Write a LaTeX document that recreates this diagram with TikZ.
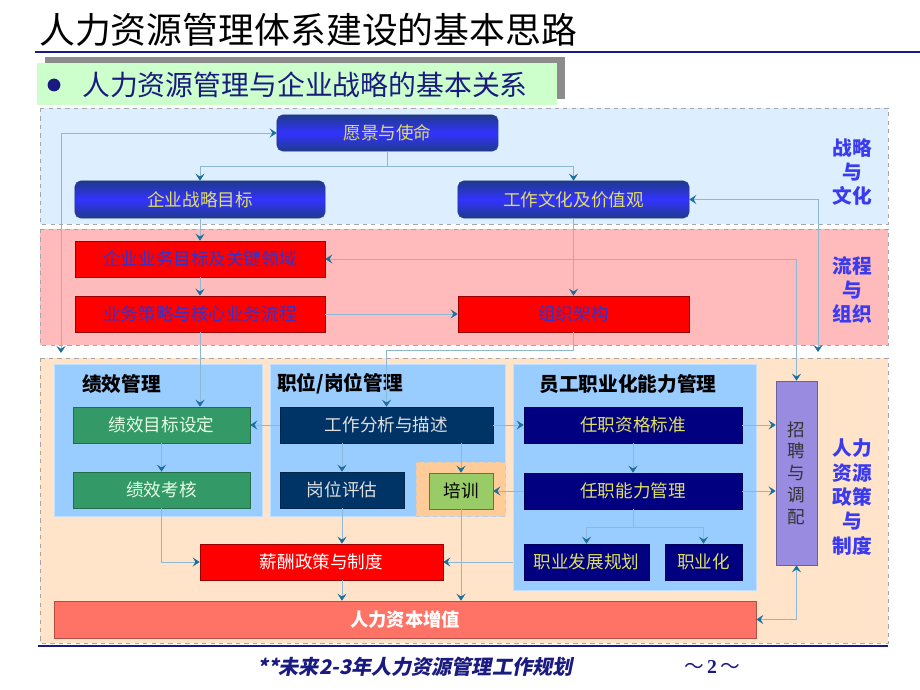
\documentclass[tikz,border=0pt]{standalone}
\usepackage{fontspec}
\setmainfont{Noto Sans CJK SC}
\newfontfamily\footfont[FakeSlant=0.2]{Noto Sans CJK SC}
\newfontfamily\pagefont{Liberation Serif}
\usetikzlibrary{arrows.meta, positioning}
\definecolor{zoneblue}{HTML}{DDEEFF}
\definecolor{zonepink}{HTML}{FFBBBB}
\definecolor{zonepeach}{HTML}{FFE4C9}
\definecolor{panelblue}{HTML}{99CCFF}
\definecolor{trainzone}{HTML}{FFCC99}
\definecolor{trainleaf}{HTML}{99CC66}
\definecolor{vividblue}{HTML}{3333FF}
\definecolor{deepblue}{HTML}{1F3A8C}
\definecolor{hotred}{HTML}{FF0000}
\definecolor{leaf}{HTML}{339966}
\definecolor{darknavy}{HTML}{003366}
\definecolor{deepnavy}{HTML}{000080}
\definecolor{lilac}{HTML}{998BE0}
\definecolor{salmon}{HTML}{FF7366}
\definecolor{linkline}{HTML}{8CB8D4}
\definecolor{tipblue}{HTML}{1C6E9C}
\definecolor{tagblue}{HTML}{3A3AF0}
\definecolor{paleyellow}{HTML}{E0E060}
\definecolor{redtext}{HTML}{3333CC}
\definecolor{rulenavy}{HTML}{1A1A80}
\definecolor{subgreen}{HTML}{CCFFCC}

\begin{document}
\begin{tikzpicture}[x=0.025cm, y=-0.025cm,
	>={Stealth[length=5pt, width=6.5pt, inset=2pt, color=tipblue]},
	zone/.style={draw=gray!70, dashed, line width=0.6pt},
	box/.style={inner sep=0pt, minimum height=0.9cm, font=\fontsize{12.5}{14}\selectfont},
	skybox/.style={box, rounded corners=4pt, draw=deepblue, top color=deepblue, bottom color=deepblue, middle color=vividblue, text=paleyellow},
	redbox/.style={box, fill=hotred, draw=red!60!black, text=redtext},
	leafbox/.style={box, fill=leaf, draw=leaf!70!black, text=white!90!green},
	navybox/.style={box, fill=darknavy, draw=darknavy!70!black, text=white!88!black},
	deepbox/.style={box, fill=deepnavy, draw=deepnavy!70!black, text=paleyellow},
	trainbox/.style={box, fill=trainleaf, draw=trainleaf!60!black, text=black},
	lilacbox/.style={box, fill=lilac, draw=lilac!70!black, text=black!80, font=\fontsize{12.5}{15.5}\selectfont},
	salmonbox/.style={box, fill=salmon, draw=salmon!70!black, text=white, font=\fontsize{13}{15}\bfseries},
	panel/.style={fill=panelblue, draw=panelblue!60!white, inner sep=0pt},
	paneltitle/.style={inner sep=0pt, text=black, font=\fontsize{14}{16}\bfseries},
	sidetag/.style={inner sep=0pt, align=center, text=tagblue, font=\fontsize{14}{17.4}\bfseries},
	wire/.style={draw=linkline, line width=0.6pt},
	link/.style={wire, ->},
	twoway/.style={wire, <->}]
	\useasboundingbox (0,0) rectangle (920,690);
	% heading
	\node[anchor=west, inner sep=0pt, font=\fontsize{25.5}{28}\selectfont] (title) at (39,30) {人力资源管理体系建设的基本思路};
	\draw[rulenavy, line width=1.5pt] (35,52) -- (920,52);
	\fill[gray!90] (45,57) rectangle (565,99);
	\fill[subgreen] (37,63) rectangle (557,105);
	\fill[rulenavy] (54,85) circle[radius=1.6mm];
	\node[anchor=west, inner sep=0pt, text=rulenavy, font=\fontsize{19.8}{22}\selectfont] (subtitle) at (82,85) {人力资源管理与企业战略的基本关系};

	% zones
	\filldraw[zone, fill=zoneblue] (40,108) rectangle (888,224);
	\filldraw[zone, fill=zonepink] (40,229) rectangle (888,345);
	\filldraw[zone, fill=zonepeach] (40,358) rectangle (888,643);
	\node[sidetag] (tagstrategy) at (852,172) {战略\\与\\文化};
	\node[sidetag] (tagprocess) at (852,290) {流程\\与\\组织};
	\node[sidetag] (tagpolicy) at (852,497) {人力\\资源\\政策\\与\\制度};

	% strategy and process
	\node[skybox, minimum width=5.525cm] (vision) at (387.5,133) {愿景与使命};
	\node[skybox, minimum width=6.25cm, minimum height=0.925cm] (goal) at (200,199.5) {企业战略目标};
	\node[skybox, minimum width=5.775cm, minimum height=0.925cm] (culture) at (573.5,199.5) {工作文化及价值观};
	\node[redbox, minimum width=6.25cm] (bizgoal) at (200,259) {企业业务目标及关键领域};
	\node[redbox, minimum width=6.25cm] (process) at (200,314) {业务策略与核心业务流程};
	\node[redbox, minimum width=5.775cm] (org) at (573.5,314) {组织架构};

	% panels
	\node[panel, minimum width=5.2cm, minimum height=3.8cm] (perfpanel) at (158,440) {};
	\node[panel, minimum width=5.875cm, minimum height=3.8cm] (jobpanel) at (387.5,440) {};
	\node[panel, minimum width=6.075cm, minimum height=5.65cm] (profpanel) at (634.5,477) {};
	\node[fill=trainzone, draw=gray!40, dashed, inner sep=0pt, minimum width=2.225cm, minimum height=1.35cm] (trainpanel) at (460.5,489) {};
	\node[paneltitle, anchor=west] (perftitle) at (82,384) {绩效管理};
	\node[paneltitle, anchor=west] (jobtitle) at (277,384) {职位/岗位管理};
	\node[paneltitle] (proftitle) at (628,384) {员工职业化能力管理};

	% policy
	\node[leafbox, minimum width=4.425cm] (perfgoal) at (161.5,425) {绩效目标设定};
	\node[leafbox, minimum width=4.425cm] (appraisal) at (161.5,490) {绩效考核};
	\node[navybox, minimum width=5.325cm] (jobana) at (386.5,425) {工作分析与描述};
	\node[navybox, minimum width=3.1cm] (jobeval) at (342,490) {岗位评估};
	\node[trainbox, minimum width=1.6cm] (train) at (461,491) {培训};
	\node[deepbox, minimum width=5.45cm] (qual) at (633,425) {任职资格标准};
	\node[deepbox, minimum width=5.45cm] (ability) at (633,491) {任职能力管理};
	\node[deepbox, minimum width=3.125cm] (career) at (586.5,562) {职业发展规划};
	\node[deepbox, minimum width=1.925cm] (profz) at (703.5,562) {职业化};
	\node[lilacbox, align=center, minimum width=1.025cm, minimum height=4.6cm] (recruit) at (796.5,473) {招\\聘\\与\\调\\配};
	\node[redbox, text=white, minimum width=6.075cm] (pay) at (321.5,562) {薪酬政策与制度};
	\node[salmonbox, minimum width=17.55cm, minimum height=0.925cm] (value) at (405,619.5) {人力资本增值};

	% connectors
	\coordinate (leftend) at (61,353);
	\coordinate (rightend) at (818,352);
	\draw[wire] (vision.south) -- ++(0,15) coordinate (vsplit);
	\draw[link] (vsplit) -| (goal.north);
	\draw[link] (vsplit) -| (culture.north);
	\draw[twoway] (leftend) |- (vision.west);
	\draw[twoway] (rightend) |- (culture.east);
	\draw[twoway] (recruit.north) |- (bizgoal.east);
	\draw[link] (goal.south) -- (bizgoal.north);
	\draw[link] (bizgoal.south) -- (process.north);
	\draw[link] (process.east) -- (org.west);
	\draw[link] (culture.south) -- (org.north);
	\draw[link] (org.south) -- ++(0,18) -| (jobana.north);
	\draw[link] (process.south) -- (process.south |- perfgoal.north);
	\draw[link] (jobana.west) -- (perfgoal.east);
	\draw[link] (jobana.east) -- (qual.west);
	\draw[link] (perfgoal.south) -- (appraisal.north);
	\draw[link] (jobeval.north |- jobana.south) -- (jobeval.north);
	\draw[link] (train.north |- jobana.south) -- (train.north);
	\draw[link] (ability.west) -- (train.east);
	\draw[link] (qual.south) -- (ability.north);
	\draw[link] (qual.east) -- (recruit.west |- qual.east);
	\draw[link] (ability.east) -- (recruit.west |- ability.east);
	\draw[wire] (ability.south) -- ++(0,18) coordinate (asplit);
	\draw[link] (asplit) -| (career.north);
	\draw[link] (asplit) -| (profz.north);
	\draw[link] (appraisal.south) |- (pay.west);
	\draw[link] (jobeval.south) -- (jobeval.south |- pay.north);
	\draw[link] (profpanel.west |- pay.east) -- (pay.east);
	\draw[link] (pay.south -| jobeval.south) -- (jobeval.south |- value.north);
	\draw[link] (train.south) -- (train.south |- value.north);
	\draw[twoway] (value.east) -| (recruit.south);

	% footer
	\draw[rulenavy, line width=1.5pt] (38,646) -- (888,646);
	\node[inner sep=0pt, text=rulenavy, font=\footfont\bfseries\fontsize{14.3}{16}\selectfont] (footer) at (415,667) {**未来2-3年人力资源管理工作规划};
	\node[inner sep=0pt, text=rulenavy, font=\fontsize{14}{16}\selectfont] (pageno) at (712,667) {～\,{\pagefont\bfseries 2}\,～};
\end{tikzpicture}
\end{document}
